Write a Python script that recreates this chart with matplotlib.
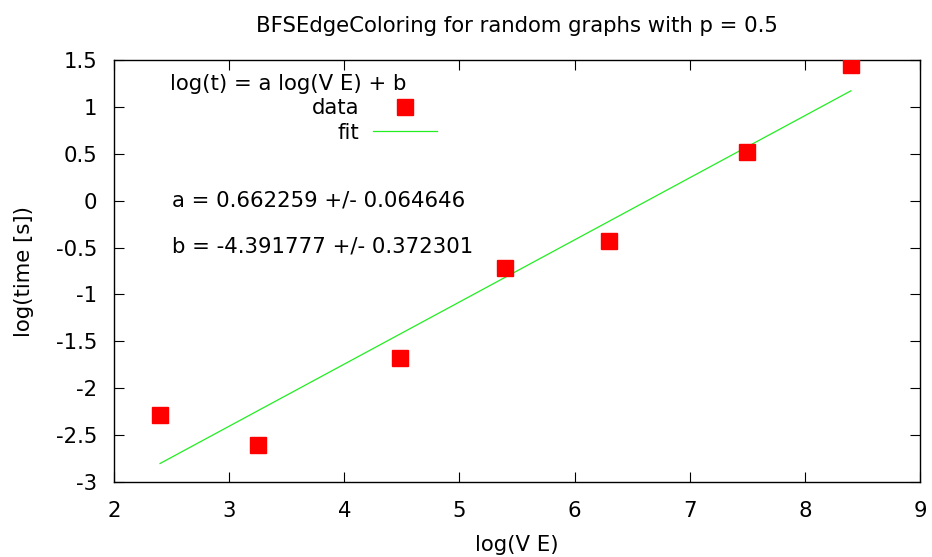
import numpy as np
import matplotlib.pyplot as plt

plt.rcParams['font.family'] = 'DejaVu Sans'
plt.rcParams['axes.unicode_minus'] = False

log_ve = [2.40, 3.25, 4.48, 5.40, 6.30, 7.50, 8.40]
log_t = [-2.28, -2.60, -1.68, -0.72, -0.43, 0.52, 1.45]

a, a_err = 0.662259, 0.064646
b, b_err = -4.391777, 0.372301

xticks = [2, 3, 4, 5, 6, 7, 8, 9]
yticks = [1.5, 1, 0.5, 0, -0.5, -1, -1.5, -2, -2.5, -3]
ytick_labels = ["1.5", "1", "0.5", "0", "-0.5", "-1", "-1.5", "-2", "-2.5", "-3"]

fs = 15.3

fig = plt.figure(figsize=(9.32, 5.57), dpi=100)
ax = fig.add_axes([0.1223, 0.1346, 0.8648, 0.7577])

ax.plot(log_ve, log_t, 's', color='red', markersize=12, label='data', zorder=3)
xf = np.linspace(min(log_ve), max(log_ve), 100)
ax.plot(xf, a * xf + b, color='#22ee22', linewidth=0.9, label='fit')

ax.set_xlim(2, 9)
ax.set_ylim(-3, 1.5)
ax.set_xticks(xticks)
ax.set_yticks(yticks)
ax.set_yticklabels(ytick_labels)
ax.tick_params(direction='in', length=7, width=0.8, top=True, right=True,
               labelsize=fs)
ax.tick_params(axis='x', pad=14)
ax.tick_params(axis='y', pad=12)
for s in ax.spines.values():
    s.set_linewidth(1.0)

ax.set_title("BFSEdgeColoring for random graphs with p = 0.5", fontsize=fs, pad=20)
ax.set_xlabel("log(V E)", fontsize=fs, labelpad=10)
ax.set_ylabel("log(time [s])", fontsize=fs, labelpad=15.5)

ax.text(0.0695, 0.942, "log(t) = a log(V E) + b", transform=ax.transAxes,
        fontsize=fs, ha='left', va='center')
ax.legend(loc='upper right', bbox_to_anchor=(0.401, 0.910), markerfirst=False,
          frameon=False, fontsize=fs, handlelength=3.0, handletextpad=0.65,
          labelspacing=0.22, borderpad=0, borderaxespad=0)

ax.text(0.072, 0.666, f"a = {a:.6f} +/- {a_err:.6f}", transform=ax.transAxes,
        fontsize=fs, ha='left', va='center')
ax.text(0.072, 0.557, f"b = {b:.6f} +/- {b_err:.6f}", transform=ax.transAxes,
        fontsize=fs, ha='left', va='center')

fig.savefig('out.png', dpi=100)
